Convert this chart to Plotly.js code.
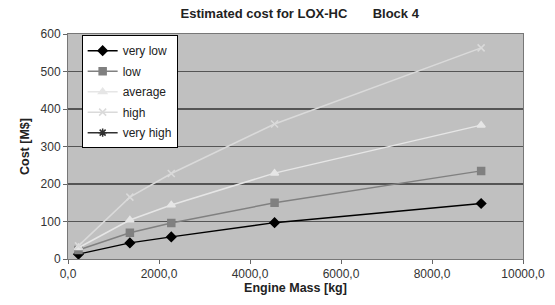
<!DOCTYPE html>
<html><head><meta charset="utf-8">
<script src="https://cdn.plot.ly/plotly-3.0.1.min.js"></script>
<style>body{margin:0;background:#fff}#c{width:555px;height:305px}</style>
</head><body><div id="c"></div>
<script>
const engineMass = [230, 1360, 2270, 4540, 9080];
const seriesNames = ["very low", "low", "average", "high", "very high"];
const veryLow = [13, 43, 59, 97, 148];
const low = [24, 70, 96, 150, 235];
const average = [30, 104, 144, 229, 357];
const high = [35, 165, 228, 360, 563];
const veryHigh = [null, null, null, null, null];
const xTicks = [0, 2000, 4000, 6000, 8000, 10000];
const yTicks = [0, 100, 200, 300, 400, 500, 600];

const styles = [
  {color:"#000000", symbol:"diamond", size:7},
  {color:"#808080", symbol:"square", size:7},
  {color:"#e6e6e6", symbol:"triangle-up", size:7},
  {color:"#dadada", symbol:"x-thin-open", size:7},
  {color:"#303030", symbol:"asterisk-open", size:7}
];
const ys = [veryLow, low, average, high, veryHigh];
const traces = ys.map((y,i)=>({
  type:"scatter", mode:"lines+markers", name:seriesNames[i], legendgroup:"g"+i,
  x: engineMass, y: y, showlegend:true,
  line:{color:styles[i].color, width:1.5},
  marker:{color:styles[i].color, symbol:styles[i].symbol, size:styles[i].size, line:{color:styles[i].color, width:1.5}}
}));
const f = "Liberation Sans, Arial, sans-serif";
Plotly.newPlot("c", traces, {
  width:555, height:305,
  margin:{l:68, r:32, t:34, b:46},
  paper_bgcolor:"#ffffff", plot_bgcolor:"#c0c0c0",
  separators:", ",
  font:{family:f, size:12, color:"#333"},
  title:{text:"<b>Estimated cost for LOX-HC       Block 4</b>", x:0.54, xanchor:"center", y:0.955, yanchor:"middle", font:{family:f, size:13, color:"#222"}},
  xaxis:{range:[0,10000], tickvals:xTicks, tickformat:".1f", showgrid:false, zeroline:false,
    ticks:"outside", ticklen:4, tickcolor:"#666", showline:true, linecolor:"#777", linewidth:1, mirror:true,
    tickfont:{size:12, color:"#333"},
    title:{text:"<b>Engine Mass [kg]</b>", font:{size:12.5, color:"#222"}, standoff:2}},
  yaxis:{range:[0,600], tickvals:yTicks, showgrid:true, gridcolor:"#555", gridwidth:1.6, zeroline:false,
    ticks:"outside", ticklen:4, tickcolor:"#666", showline:true, linecolor:"#777", linewidth:1, mirror:true,
    tickfont:{size:12, color:"#333"},
    title:{text:"<b>Cost [M$]</b>", font:{size:12.5, color:"#222"}, standoff:8}},
  legend:{x:0.03, y:0.995, xanchor:"left", yanchor:"top", bgcolor:"#ffffff", bordercolor:"#000", borderwidth:1,
    font:{size:12, color:"#222"}, tracegroupgap:1.5, itemwidth:30},
  showlegend:true
}, {displayModeBar:false, staticPlot:true});
</script></body></html>
